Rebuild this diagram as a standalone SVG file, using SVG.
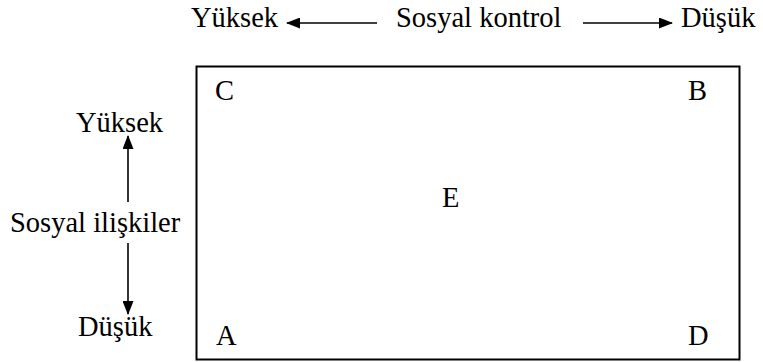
<svg xmlns="http://www.w3.org/2000/svg" width="763" height="362" viewBox="0 0 763 362">
  <defs>
    <marker id="arrow" markerWidth="14" markerHeight="11" refX="13" refY="5.5" orient="auto" markerUnits="userSpaceOnUse">
      <path d="M0,0 L14,5.5 L0,11 Z" fill="#000"/>
    </marker>
  </defs>
  <style>
    text { font-family: "Liberation Serif", "Times New Roman", serif; font-size: 28.5px; fill: #000; }
    .conn { stroke: #000; stroke-width: 1.6; fill: none; }
    .box { stroke: #000; stroke-width: 2; fill: #fff; }
  </style>
  <rect width="763" height="362" fill="#fff"/>

  <!-- main quadrant box -->
  <g id="box">
    <rect class="box" x="196.5" y="66.5" width="543" height="293"/>
  </g>

  <!-- corner and centre labels -->
  <g id="node-C"><text x="215" y="100">C</text></g>
  <g id="node-B"><text x="688" y="100">B</text></g>
  <g id="node-A"><text x="216" y="345">A</text></g>
  <g id="node-D"><text x="688" y="345">D</text></g>
  <g id="node-E"><text x="442" y="207">E</text></g>

  <!-- horizontal axis: social control -->
  <g id="axis-control">
    <text x="191" y="27">Yüksek</text>
    <text x="396" y="27">Sosyal kontrol</text>
    <text x="681" y="27">Düşük</text>
  </g>

  <!-- vertical axis: social relations -->
  <g id="axis-relations">
    <text x="76" y="132">Yüksek</text>
    <text x="10" y="232">Sosyal ilişkiler</text>
    <text x="78" y="336">Düşük</text>
  </g>

  <g id="connectors">
    <line class="conn" x1="377" y1="23" x2="287" y2="23" marker-end="url(#arrow)"/>
    <line class="conn" x1="583" y1="23" x2="672" y2="23" marker-end="url(#arrow)"/>
    <line class="conn" x1="128" y1="202" x2="128" y2="136" marker-end="url(#arrow)"/>
    <line class="conn" x1="128" y1="243" x2="128" y2="314" marker-end="url(#arrow)"/>
  </g>
</svg>
